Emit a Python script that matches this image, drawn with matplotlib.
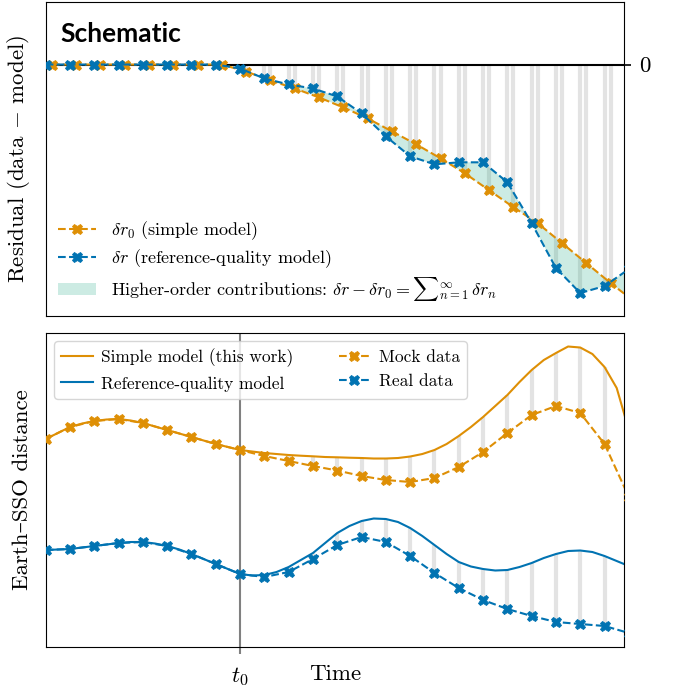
import numpy as np
import matplotlib
import matplotlib.pyplot as plt

plt.rcParams["font.family"] = ["cmr10", "DejaVu Serif"]
plt.rcParams["mathtext.fontset"] = "cm"
plt.rcParams["axes.formatter.use_mathtext"] = True

ORANGE = "#de8f05"
BLUE = "#0173b2"
GREEN = "#029e73"
BAR_GREY = "#e3e3e3"

# time steps (t0 is step 8)
t = np.arange(25)
t0 = 8
model_t = np.arange(0, 24.5, 0.5)

# --- top panel: residuals (data - model)
dr0 = [0, 0, 0, 0, 0, 0, 0, 0,
       -0.7, -1.6, -2.4, -3.3, -4.3, -5.4, -6.7, -8.0, -9.4,
       -10.9, -12.6, -14.3, -15.9, -17.9, -19.9, -21.9, -23.8]
dr = [0, 0, 0, 0, 0, 0, 0, 0,
      -0.4, -1.4, -2.0, -2.4, -3.2, -4.9, -7.2, -9.2, -10.0,
      -9.8, -9.8, -11.8, -15.9, -20.4, -22.9, -22.2, -20.5]

# --- bottom panel: Earth-SSO distance
simple_model = [21.1, 21.7, 22.3, 22.65, 22.9, 23.05, 23.1, 22.95, 22.7, 22.35,
                22.0, 21.65, 21.3, 20.95, 20.6, 20.3, 20.0, 19.85, 19.7, 19.6,
                19.5, 19.43, 19.37, 19.3, 19.27, 19.23, 19.2, 19.15, 19.15, 19.2,
                19.35, 19.6, 20.0, 20.6, 21.4, 22.3, 23.3, 24.4, 25.5, 26.8,
                28.0, 29.0, 29.7, 30.35, 30.25, 29.6, 28.3, 26.2, 22.0]
ref_model = [10.0, 10.05, 10.1, 10.25, 10.4, 10.55, 10.7, 10.8, 10.8, 10.65,
             10.4, 10.05, 9.6, 9.1, 8.6, 8.1, 7.6, 7.45, 7.5, 7.8,
             8.3, 9.0, 9.7, 10.7, 11.7, 12.4, 12.9, 13.15, 13.1, 12.8,
             12.2, 11.4, 10.5, 9.6, 8.8, 8.35, 8.1, 7.95, 8.0, 8.3,
             8.7, 9.2, 9.6, 9.9, 9.95, 9.8, 9.4, 8.9, 8.4]
mock_data = [21.1, 22.3, 22.9, 23.1, 22.7, 22.0, 21.3, 20.6, 20.0, 19.4,
             18.9, 18.4, 17.95, 17.4, 17.0, 16.8, 17.2, 18.3, 19.8, 21.7,
             23.5, 24.4, 23.7, 20.6, 15.3]
real_data = [10.0, 10.1, 10.4, 10.7, 10.8, 10.4, 9.6, 8.6, 7.6, 7.3,
             7.8, 9.1, 10.5, 11.3, 10.8, 9.4, 7.7, 6.2, 5.0, 4.1,
             3.4, 2.8, 2.6, 2.4, 1.7]

OFFSET = 0.25  # small shift so the two residual series don't overlap
XMAX = 23.8

fig = plt.figure(figsize=(6.77, 6.91), dpi=100)
ax1 = fig.add_axes([0.0675, 0.5427, 0.8542, 0.4549])
ax2 = fig.add_axes([0.0675, 0.0641, 0.8542, 0.4544])

mk = dict(marker="X", markersize=7.5, markeredgewidth=0.6, lw=1.5, ls="--")

# ---------------- top panel
ax1.vlines(t, 0, dr, color=BAR_GREY, lw=3, zorder=1)
ax1.vlines(t + OFFSET, 0, dr0, color=BAR_GREY, lw=3, zorder=1)
fill = ax1.fill(np.concatenate([t, (t + OFFSET)[::-1]]),
                np.concatenate([dr, dr0[::-1]]),
                color=GREEN, alpha=0.2, lw=0, zorder=1.5)[0]
ax1.axhline(0, color="black", lw=1.5, zorder=2)
l0, = ax1.plot(t + OFFSET, dr0, color=ORANGE, zorder=3, **mk)
l1, = ax1.plot(t, dr, color=BLUE, zorder=3.5, **mk)

ax1.set_xlim(0, XMAX)
ax1.set_ylim(-25.2, 6.3)
ax1.set_xticks([])
ax1.yaxis.tick_right()
ax1.set_yticks([0])
ax1.set_yticklabels(["0"])
ax1.tick_params(axis="y", length=4.8, width=1.2, pad=6, labelsize=16.5)
ax1.set_ylabel(r"Residual (data $-$ model)", fontsize=16.5, labelpad=10)
ax1.yaxis.set_label_position("left")
ax1.text(0.0247, 0.872, "Schematic", transform=ax1.transAxes,
         fontsize=19, fontweight="bold", family="Lato", va="baseline")
ax1.legend([l0, l1, fill],
           [r"$\delta r_0$ (simple model)",
            r"$\delta r$ (reference-quality model)",
            r"Higher-order contributions: $\delta r - \delta r_0 = {\sum}_{n=1}^{\infty}\, \delta r_n$"],
           loc="lower left", frameon=False, fontsize=13,
           handlelength=2.1, handletextpad=0.8, labelspacing=0.3,
           borderaxespad=0.3)

# ---------------- bottom panel
ax2.axvline(t0, color="0.5", lw=1.5, zorder=0.5)
ax2.vlines(t, np.array(simple_model)[::2], mock_data, color=BAR_GREY, lw=3, zorder=1)
ax2.vlines(t, np.array(ref_model)[::2], real_data, color=BAR_GREY, lw=3, zorder=1)
h1, = ax2.plot(model_t, simple_model, color=ORANGE, lw=1.5, zorder=2)
h2, = ax2.plot(model_t, ref_model, color=BLUE, lw=1.5, zorder=2)
h3, = ax2.plot(t, mock_data, color=ORANGE, zorder=3, **mk)
h4, = ax2.plot(t, real_data, color=BLUE, zorder=3, **mk)

ax2.set_xlim(0, XMAX)
ax2.set_ylim(0.33, 31.73)
ax2.set_yticks([])
ax2.set_xticks([t0])
ax2.set_xticklabels([r"$t_0$"])
ax2.tick_params(axis="x", length=5, width=1.5, color="0.5", labelsize=16.5, pad=8)
ax2.set_xlabel("Time", fontsize=16.5)
ax2.xaxis.set_label_coords(0.5, -0.058)
ax2.set_ylabel("Earth–SSO distance", fontsize=16.5, labelpad=10)
ax2.legend([h1, h2, h3, h4],
           ["Simple model (this work)", "Reference-quality model",
            "Mock data", "Real data"],
           ncol=2, loc="upper left", fontsize=12.5,
           handlelength=1.8, handletextpad=0.5, columnspacing=2.6)

fig.savefig("out.png", dpi=100)
